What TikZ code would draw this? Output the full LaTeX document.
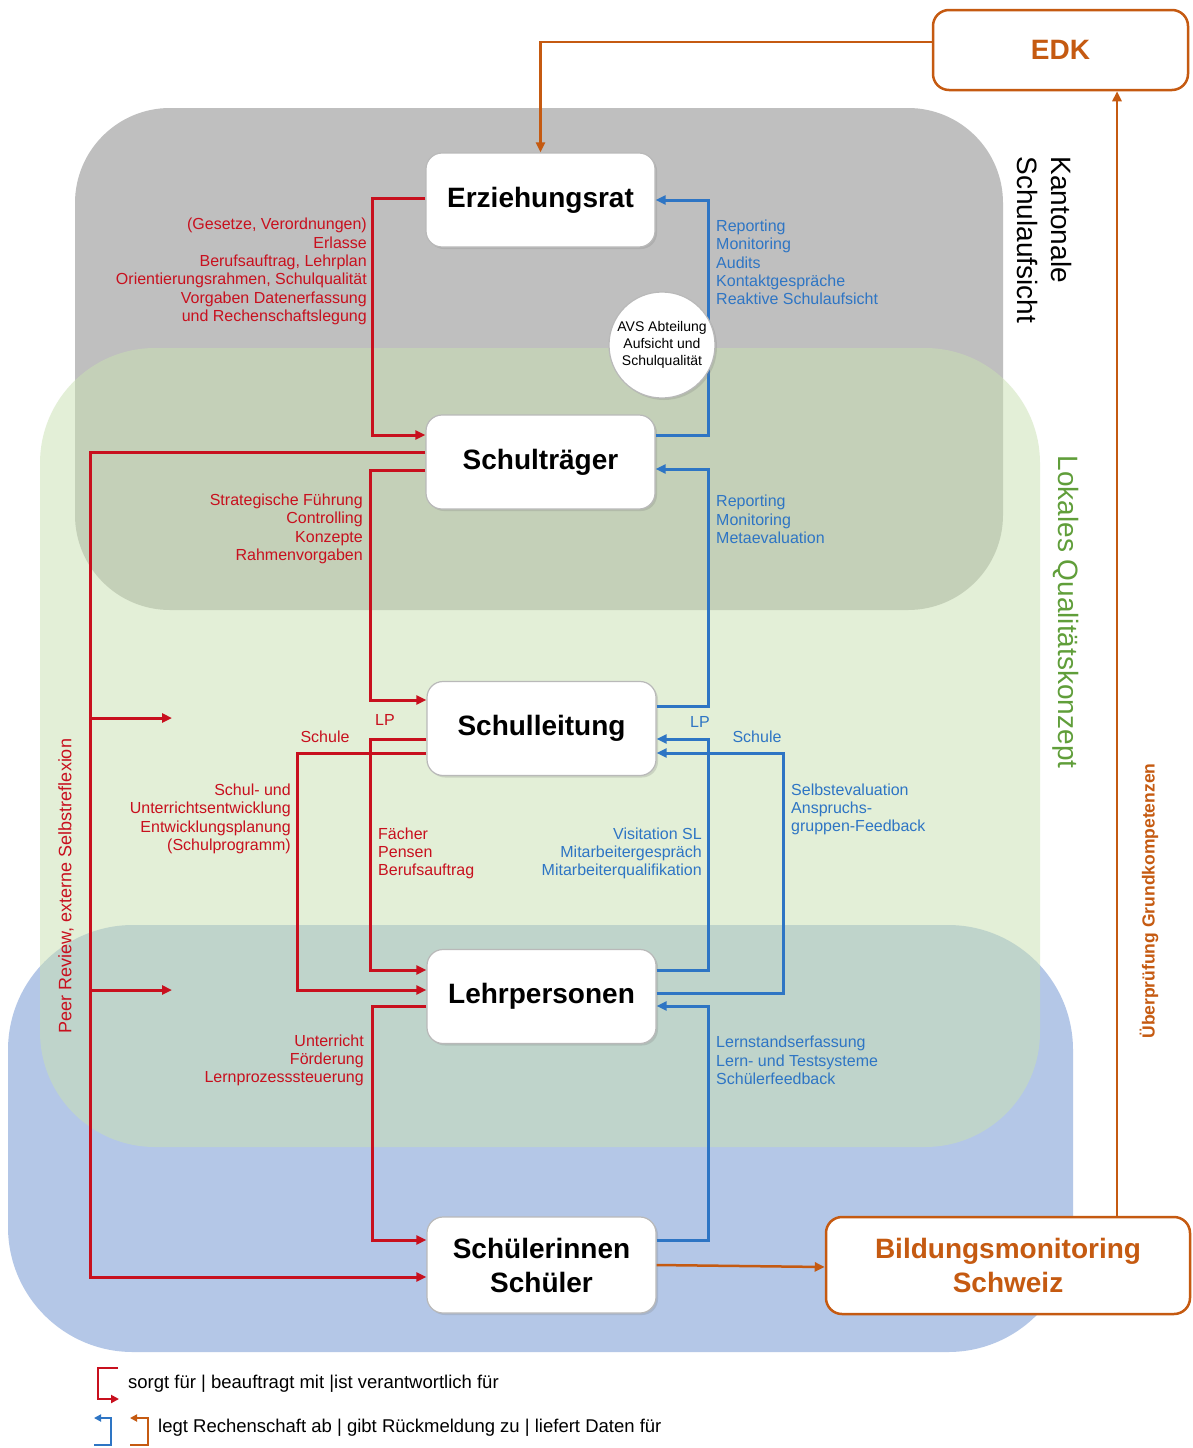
\documentclass[tikz,border=0pt]{standalone}
\usepackage{fontspec}
\setmainfont{Liberation Sans}
\usetikzlibrary{arrows.meta,shadows}
\definecolor{redc}{RGB}{200,16,30}
\definecolor{bluec}{RGB}{46,117,196}
\definecolor{orc}{RGB}{197,90,17}
\definecolor{grayzone}{RGB}{191,191,191}
\definecolor{greenzone}{RGB}{202,225,179}
\definecolor{bluezone}{RGB}{180,199,231}
\definecolor{greentext}{RGB}{96,158,58}
\definecolor{boxborder}{RGB}{185,185,185}
\begin{document}
\begin{tikzpicture}[x=1pt,y=-1pt,
  wbox/.style={draw=boxborder, line width=1.2pt, fill=white, rounded corners=16pt,
    minimum width=229pt, minimum height=94pt, align=center,
    font=\fontsize{28}{34}\selectfont\bfseries,
    drop shadow={opacity=0.25,shadow xshift=2pt,shadow yshift=-2pt}},
  obox/.style={draw=orc, line width=2.5pt, fill=white, rounded corners=16pt,
    align=center, text=orc, font=\fontsize{28}{34}\selectfont\bfseries},
  rarr/.style={draw=redc, line width=3pt, -{Triangle[length=10pt,width=9pt]}},
  barr/.style={draw=bluec, line width=3pt, -{Triangle[length=10pt,width=9pt]}},
  oarr/.style={draw=orc, line width=2.5pt, -{Triangle[length=10pt,width=9pt]}},
  rlab/.style={text=redc, font=\fontsize{16}{18.3}\selectfont, inner sep=0pt},
  blab/.style={text=bluec, font=\fontsize{16}{18.3}\selectfont, inner sep=0pt},
  leg/.style={font=\fontsize{18.5}{21}\selectfont, inner sep=0pt, anchor=west},
]
\useasboundingbox (0,0) rectangle (1193,1448);
\fill[white] (0,0) rectangle (1193,1448);

% zones
\fill[grayzone, rounded corners=95pt] (75,108) rectangle (1003,610);
\fill[bluezone, rounded corners=125pt] (8,925) rectangle (1073,1352);
\fill[greenzone, opacity=0.52, rounded corners=115pt] (40,348) rectangle (1040,1147);

% zone titles
\node[rotate=-90, align=left, font=\fontsize{28}{34}\selectfont, inner sep=0pt] (ks) at (1044,240) {Kantonale\\Schulaufsicht};
\node[rotate=-90, text=greentext, font=\fontsize{28}{34}\selectfont, inner sep=0pt] (lq) at (1066,612) {Lokales Qualitätskonzept};
\node[rotate=90, text=orc, font=\fontsize{17.5}{20}\selectfont\bfseries, inner sep=0pt] (ug) at (1149,901) {Überprüfung Grundkompetenzen};
\node[rotate=90, text=redc, font=\fontsize{18}{20}\selectfont, inner sep=0pt] (pr) at (66,886) {Peer Review, externe Selbstreflexion};

% main nodes
\node[wbox] (ez) at (540.5,200) {Erziehungsrat};
\node[wbox] (st) at (540.5,462) {Schulträger};
\node[wbox] (sl) at (541.5,728.5) {Schulleitung};
\node[wbox] (lp) at (541.5,996.5) {Lehrpersonen};
\node[wbox, minimum height=96pt] (ss) at (541.5,1265) {Schülerinnen\\Schüler};
\node[obox, minimum width=255pt, minimum height=80pt] (edk) at (1060.5,50) {EDK};
\node[obox, minimum width=364pt, minimum height=97pt] (bm) at (1008,1265.5) {Bildungsmonitoring\\Schweiz};

% free ends of the peer review arrows
\coordinate (pe1) at (172,718);
\coordinate (pe2) at (172,990);

% red connectors
\draw[rarr] (ez.west |- 0,198) -- (372,198) |- (st.west |- 0,435);
\draw[rarr] (st.west |- 0,470) -- (370,470) |- (sl.west |- 0,700);
\draw[rarr] (st.west |- 0,452) -- (90,452) |- (ss.west |- 0,1277);
\draw[rarr] (pe1 -| 90,0) -- (pe1);
\draw[rarr] (pe2 -| 90,0) -- (pe2);
\draw[rarr] (sl.west |- 0,739) -- (370,739) |- (lp.west |- 0,970);
\draw[rarr] (sl.west |- 0,753) -- (297,753) |- (lp.west |- 0,990);
\draw[rarr] (lp.west |- 0,1006) -- (372,1006) |- (ss.west |- 0,1240);

% blue connectors
\draw[barr] (st.east |- 0,435) -- (708,435) |- (ez.east |- 0,200);
\draw[barr] (sl.east |- 0,706) -- (708,706) |- (st.east |- 0,469);
\draw[barr] (lp.east |- 0,970) -- (708,970) |- (sl.east |- 0,739);
\draw[barr] (lp.east |- 0,993) -- (783,993) |- (sl.east |- 0,753);
\draw[barr] (ss.east |- 0,1240) -- (708,1240) |- (lp.east |- 0,1006);

% orange connectors
\draw[oarr] (edk.west |- 0,42) -| (ez.north);
\draw[oarr] (bm.north -| 1117,0) -- (edk.south -| 1117,0);
\draw[oarr] (ss.east |- 0,1265) -- (bm.west |- 0,1267);

% AVS circle
\node[circle, draw=boxborder, fill=white, line width=1.2pt, minimum size=106pt, inner sep=0pt,
  align=center, font=\fontsize{14}{17}\selectfont,
  drop shadow={opacity=0.25,shadow xshift=2pt,shadow yshift=-2pt}] (avs) at (662,345)
  {AVS Abteilung\\Aufsicht und\\Schulqualität};

% red labels
\node[rlab, anchor=east, align=right] (t1) at (367,271.5) {(Gesetze, Verordnungen)\\Erlasse\\Berufsauftrag, Lehrplan\\Orientierungsrahmen, Schulqualität\\Vorgaben Datenerfassung\\und Rechenschaftslegung};
\node[rlab, anchor=east, align=right] (t2) at (363,529) {Strategische Führung\\Controlling\\Konzepte\\Rahmenvorgaben};
\node[rlab] (t3) at (325,737) {Schule};
\node[rlab] (t4) at (385,720) {LP};
\node[rlab, anchor=east, align=right] (t5) at (291,819) {Schul- und\\Unterrichtsentwicklung\\Entwicklungsplanung\\(Schulprogramm)};
\node[rlab, anchor=west, align=left] (t6) at (378,853.5) {Fächer\\Pensen\\Berufsauftrag};
\node[rlab, anchor=east, align=right] (t7) at (364,1060.5) {Unterricht\\Förderung\\Lernprozesssteuerung};

% blue labels
\node[blab, anchor=west, align=left] (u1) at (716,262.5) {Reporting\\Monitoring\\Audits\\Kontaktgespräche\\Reaktive Schulaufsicht};
\node[blab, anchor=west, align=left] (u2) at (716,519.5) {Reporting\\Monitoring\\Metaevaluation};
\node[blab] (u3) at (700,722) {LP};
\node[blab] (u4) at (757,737) {Schule};
\node[blab, anchor=east, align=right] (u5) at (702,853.5) {Visitation SL\\Mitarbeitergespräch\\Mitarbeiterqualifikation};
\node[blab, anchor=west, align=left] (u6) at (791,809.5) {Selbstevaluation\\Anspruchs-\\gruppen-Feedback};
\node[blab, anchor=west, align=left] (u7) at (716,1060.5) {Lernstandserfassung\\Lern- und Testsysteme\\Schülerfeedback};

% legend
\draw[redc, line width=2.5pt, -{Triangle[length=8pt,width=8pt]}] (118,1368) -- (98,1368) -- (98,1399) -- (119,1399);
\node[leg] (lg1) at (128,1384) {sorgt für | beauftragt mit |ist verantwortlich für};
\draw[bluec, line width=2.5pt, -{Triangle[length=7pt,width=7pt]}] (94,1445) -- (111,1445) -- (111,1418) -- (94,1418);
\draw[orc, line width=2.5pt, -{Triangle[length=7pt,width=7pt]}] (130,1445) -- (148,1445) -- (148,1418) -- (130,1418);
\node[leg] (lg2) at (158,1428) {legt Rechenschaft ab | gibt Rückmeldung zu | liefert Daten für};
\end{tikzpicture}
\end{document}
